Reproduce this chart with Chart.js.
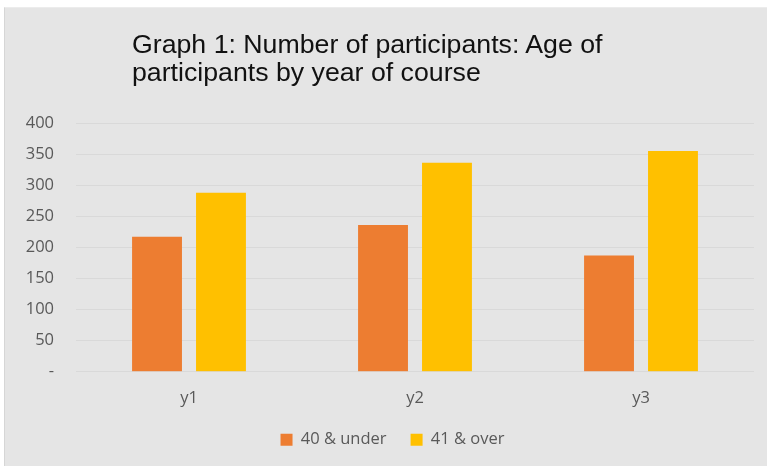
<!DOCTYPE html>
<html>

<head>
    <meta charset="utf-8">
    <title>Age of participants by year of course</title>
    <script src="https://cdn.jsdelivr.net/npm/chart.js"></script>
    <style>
        html,
        body {
            margin: 0;
            padding: 0;
            background: #ffffff;
            width: 767px;
            height: 466px;
            overflow: hidden;
        }

        #panel {
            position: absolute;
            left: 4px;
            top: 7px;
            width: 763px;
            height: 459px;
            background: #e5e5e5;
            border-left: 1px solid #d6d6d6;
            border-top: 1px solid #ececec;
            box-sizing: border-box;
        }

        #chart-title {
            position: absolute;
            left: 127px;
            top: 22px;
            font-family: "Liberation Sans", Arial, sans-serif;
            font-size: 25px;
            line-height: 28px;
            color: #111111;
            white-space: nowrap;
            transform: scaleX(1.068);
            transform-origin: left top;
        }

        #chart-box {
            position: absolute;
            left: 0;
            top: 0;
            width: 762px;
            height: 458px;
        }
    </style>
</head>

<body>
    <div id="panel">
        <div id="chart-box">
            <canvas id="myChart"></canvas>
        </div>
        <div id="chart-title">Graph 1: Number of participants: Age of<br>participants by year of course</div>
    </div>

    <script>
        // year of course
        const years = ["y1", "y2", "y3"];
        // number of participants per age group
        const under40 = [217, 236, 187];
        const over41 = [288, 336, 355];
        const yTicks = [0, 50, 100, 150, 200, 250, 300, 350, 400];

        const labelFont = { family: "Open Sans", size: 16.5 };

        // nudge the legend a little to the right of the canvas centre
        const legendShift = {
            id: "legendShift",
            afterLayout(chart) {
                chart.legend.left += 10;
                chart.legend.right += 10;
            },
        };

        const data = {
            labels: years,
            datasets: [{
                label: "40 & under",
                backgroundColor: "#ED7D31",
                data: under40,
            }, {
                label: "41 & over",
                backgroundColor: "#FFC000",
                data: over41,
            },],
        };

        const config = {
            type: "bar",
            data: data,
            plugins: [legendShift],
            options: {
                responsive: true,
                maintainAspectRatio: false,
                animation: false,
                layout: {
                    padding: { top: 115, left: 6, right: 13, bottom: 8 },
                },
                datasets: {
                    bar: {
                        categoryPercentage: 0.566,
                        barPercentage: 0.78,
                    },
                },
                plugins: {
                    legend: {
                        position: "bottom",
                        labels: {
                            boxWidth: 12,
                            boxHeight: 12,
                            padding: 24,
                            color: "#595959",
                            font: labelFont,
                        },
                    },
                    tooltip: { enabled: false },
                },
                scales: {
                    x: {
                        grid: { display: false, drawTicks: false },
                        border: { display: false },
                        afterFit: (scale) => {
                            // tighten the gap between the category labels and the legend
                            scale.height -= 18;
                        },
                        ticks: {
                            padding: 17,
                            color: "#595959",
                            font: labelFont,
                        },
                    },
                    y: {
                        min: 0,
                        max: 400,
                        afterBuildTicks: (scale) => {
                            scale.ticks = yTicks.map((v) => ({ value: v }));
                        },
                        afterFit: (scale) => {
                            scale.width = 65;
                        },
                        grid: { color: "#d9d9d9", drawTicks: false },
                        border: { display: false },
                        ticks: {
                            padding: 22,
                            color: "#595959",
                            font: labelFont,
                            callback: (v) => (v === 0 ? "-" : v),
                        },
                    },
                },
            },
        };

        const ctx = document.getElementById("myChart").getContext("2d");
        myChart = new Chart(ctx, config);
    </script>
</body>

</html>
